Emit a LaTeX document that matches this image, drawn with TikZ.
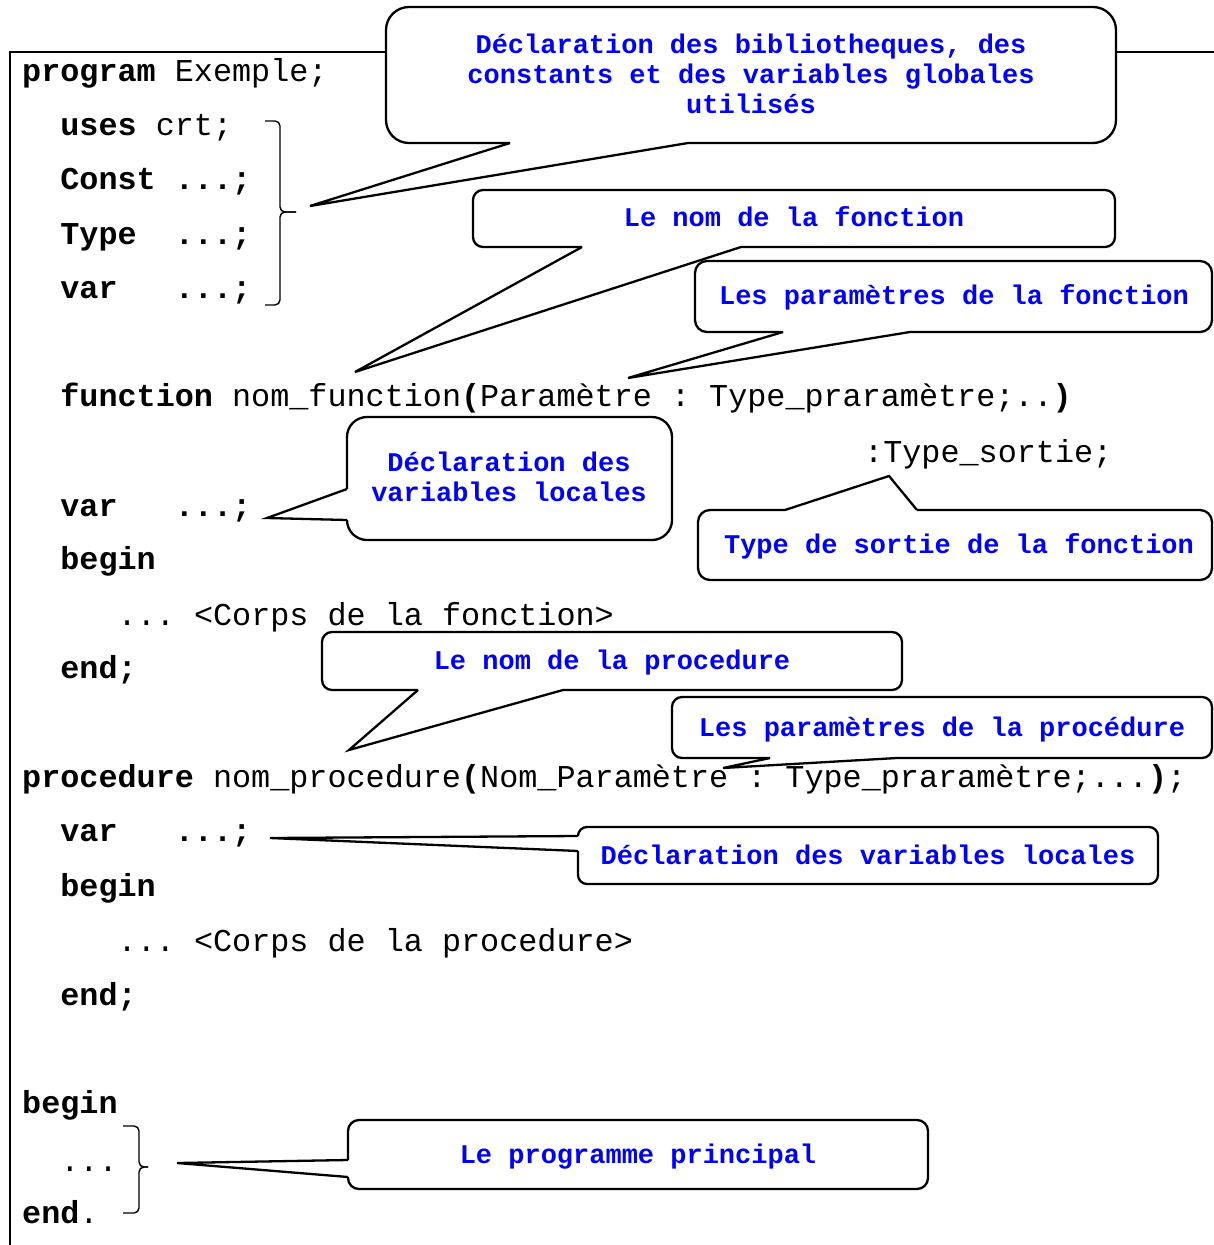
\documentclass[tikz,border=0pt]{standalone}
\usepackage{fontspec}
\setmonofont{Liberation Mono}
\newcommand\codefont{\ttfamily\fontsize{31.8}{38}\selectfont}
\newcommand\calfont{\ttfamily\bfseries\fontsize{27}{30}\selectfont}
\tikzset{
  codeline/.style={anchor=base west, inner sep=0pt, font=\codefont},
  ctext/.style={anchor=base, inner sep=0pt, text=blue, font=\calfont},
  cline/.style={draw=black, line width=2.3pt},
  cfill/.style={fill=white},
  bracepath/.style={draw=black, line width=1.4pt, rounded corners=5pt},
  framepath/.style={draw=black, line width=1.8pt}
}
\begin{document}
\begin{tikzpicture}[x=1pt,y=-1pt]
\useasboundingbox[fill=white] (0,0) rectangle (1214,1245);
% frame
\coordinate (F0) at (10,52);
\coordinate (F1) at (1214,52);
\coordinate (F2) at (10,1245);
\draw[framepath] (F1) -- (F0) -- (F2);

% code lines
\node[codeline] (l1) at (22,81) {\textbf{program}\ Exemple;};
\node[codeline] (l2) at (60.2,135) {\textbf{uses}\ crt;};
\node[codeline] (l3) at (60.2,189) {\textbf{Const\ ...;}};
\node[codeline] (l4) at (60.2,244) {\textbf{Type\ \ ...;}};
\node[codeline] (l5) at (60.2,298) {\textbf{var\ \ \ ...;}};
\node[codeline] (l6) at (60.2,406) {\textbf{function}\ nom\_function\textbf{(}Paramètre\ :\ Type\_praramètre;..\textbf{)}};
\node[codeline] (l7) at (864,462) {:Type\_sortie;};
\node[codeline] (l8) at (60.2,516) {\textbf{var\ \ \ ...;}};
\node[codeline] (l9) at (60.2,569) {\textbf{begin}};
\node[codeline] (l10) at (117.5,625) {...\ <Corps\ de\ la\ fonction>};
\node[codeline] (l11) at (60.2,678) {\textbf{end;}};
\node[codeline] (l12) at (22,787) {\textbf{procedure}\ nom\_procedure\textbf{(}Nom\_Paramètre\ :\ Type\_praramètre;...\textbf{)};};
\node[codeline] (l13) at (60.2,841) {\textbf{var\ \ \ ...;}};
\node[codeline] (l14) at (60.2,896) {\textbf{begin}};
\node[codeline] (l15) at (117.5,951) {...\ <Corps\ de\ la\ procedure>};
\node[codeline] (l16) at (60.2,1005) {\textbf{end;}};
\node[codeline] (l17) at (22,1113) {\textbf{begin}};
\node[codeline] (l18) at (60.2,1171) {...};
\node[codeline] (l19) at (22,1223) {\textbf{end}.};

% braces
\draw[bracepath] (265,121) -- (280,121) -- (280,212) -- (296,212);
\draw[bracepath] (296,212) -- (280,212) -- (280,305) -- (265,305);
\draw[bracepath] (123,1126) -- (139,1126) -- (139,1167) -- (148,1167);
\draw[bracepath] (148,1167) -- (139,1167) -- (139,1213) -- (123,1213);

% ---- callout A
\coordinate (A1) at (386,7); \coordinate (A2) at (1116,143);
\coordinate (Abl) at (510,143); \coordinate (Abr) at (688,143); \coordinate (Atip) at (310,206);
\fill[cfill,rounded corners=23pt] (A1) rectangle (A2);
\fill[cfill] (Abl) -- (Atip) -- (Abr) -- cycle;
\draw[cline,rounded corners=23pt] (Abr) -- (A2) -- (A2 |- A1) -- (A1) -- (A1 |- A2) -- (Abl);
\draw[cline] (Abl) -- (Atip) -- (Abr);
\node[ctext] (At1) at (751,53) {Déclaration des bibliotheques, des};
\node[ctext] (At2) at (751,83) {constants et des variables globales};
\node[ctext] (At3) at (751,113) {utilisés};

% ---- callout B
\coordinate (B1) at (473,190); \coordinate (B2) at (1115,247);
\coordinate (Bbl) at (582,247); \coordinate (Bbr) at (741,247); \coordinate (Btip) at (355,372);
\fill[cfill,rounded corners=10pt] (B1) rectangle (B2);
\fill[cfill] (Bbl) -- (Btip) -- (Bbr) -- cycle;
\draw[cline,rounded corners=10pt] (Bbr) -- (B2) -- (B2 |- B1) -- (B1) -- (B1 |- B2) -- (Bbl);
\draw[cline] (Bbl) -- (Btip) -- (Bbr);
\node[ctext] (Bt) at (794,226) {Le nom de la fonction};

% ---- callout C
\coordinate (C1) at (695,261); \coordinate (C2) at (1212,332);
\coordinate (Cbl) at (783,332); \coordinate (Cbr) at (910,332); \coordinate (Ctip) at (628,378);
\fill[cfill,rounded corners=12pt] (C1) rectangle (C2);
\fill[cfill] (Cbl) -- (Ctip) -- (Cbr) -- cycle;
\draw[cline,rounded corners=12pt] (Cbr) -- (C2) -- (C2 |- C1) -- (C1) -- (C1 |- C2) -- (Cbl);
\draw[cline] (Cbl) -- (Ctip) -- (Cbr);
\node[ctext] (Ct) at (954,304) {Les paramètres de la fonction};

% ---- callout D (tail on the left)
\coordinate (D1) at (347,417); \coordinate (D2) at (672,540);
\coordinate (Dbu) at (347,489); \coordinate (Dbl) at (347,520); \coordinate (Dtip) at (267,518);
\fill[cfill,rounded corners=20pt] (D1) rectangle (D2);
\fill[cfill] (Dbu) -- (Dtip) -- (Dbl) -- cycle;
\draw[cline,rounded corners=20pt] (Dbl) -- (D1 |- D2) -- (D2) -- (D2 |- D1) -- (D1) -- (Dbu);
\draw[cline] (Dbu) -- (Dtip) -- (Dbl);
\node[ctext] (Dt1) at (509,471) {Déclaration des};
\node[ctext] (Dt2) at (509,501) {variables locales};

% ---- callout E (tail on top)
\coordinate (E1) at (698,510); \coordinate (E2) at (1212,580);
\coordinate (Ebl) at (785,510); \coordinate (Ebr) at (917,510); \coordinate (Etip) at (889,476);
\fill[cfill,rounded corners=12pt] (E1) rectangle (E2);
\fill[cfill] (Ebl) -- (Etip) -- (Ebr) -- cycle;
\draw[cline,rounded corners=12pt] (Ebr) -- (E2 |- E1) -- (E2) -- (E1 |- E2) -- (E1) -- (Ebl);
\draw[cline] (Ebl) -- (Etip) -- (Ebr);
\node[ctext] (Et) at (959,553) {Type de sortie de la fonction};

% ---- callout F
\coordinate (G1) at (322,632); \coordinate (G2) at (902,690);
\coordinate (Gbl) at (418,690); \coordinate (Gbr) at (563,690); \coordinate (Gtip) at (349,750);
\fill[cfill,rounded corners=10pt] (G1) rectangle (G2);
\fill[cfill] (Gbl) -- (Gtip) -- (Gbr) -- cycle;
\draw[cline,rounded corners=10pt] (Gbr) -- (G2) -- (G2 |- G1) -- (G1) -- (G1 |- G2) -- (Gbl);
\draw[cline] (Gbl) -- (Gtip) -- (Gbr);
\node[ctext] (Gt) at (612,669) {Le nom de la procedure};

% ---- callout G
\coordinate (H1) at (672,697); \coordinate (H2) at (1212,758);
\coordinate (Hbl) at (770,758); \coordinate (Hbr) at (897,758); \coordinate (Htip) at (723,768);
\fill[cfill,rounded corners=10pt] (H1) rectangle (H2);
\fill[cfill] (Hbl) -- (Htip) -- (Hbr) -- cycle;
\draw[cline,rounded corners=10pt] (Hbr) -- (H2) -- (H2 |- H1) -- (H1) -- (H1 |- H2) -- (Hbl);
\draw[cline] (Hbl) -- (Htip) -- (Hbr);
\node[ctext] (Ht) at (942,736) {Les paramètres de la procédure};

% ---- callout H (tail on the left)
\coordinate (K1) at (578,827); \coordinate (K2) at (1158,884);
\coordinate (Kbu) at (578,836); \coordinate (Kbl) at (578,851); \coordinate (Ktip) at (270,838);
\fill[cfill,rounded corners=9pt] (K1) rectangle (K2);
\fill[cfill] (Kbu) -- (Ktip) -- (Kbl) -- cycle;
\draw[cline,rounded corners=9pt] (Kbl) -- (K1 |- K2) -- (K2) -- (K2 |- K1) -- (K1) -- (Kbu);
\draw[cline] (Kbu) -- (Ktip) -- (Kbl);
\node[ctext] (Kt) at (868,864) {Déclaration des variables locales};

% ---- callout I (tail on the left)
\coordinate (M1) at (348,1120); \coordinate (M2) at (928,1189);
\coordinate (Mbu) at (348,1160); \coordinate (Mbl) at (348,1177); \coordinate (Mtip) at (177,1163);
\fill[cfill,rounded corners=11pt] (M1) rectangle (M2);
\fill[cfill] (Mbu) -- (Mtip) -- (Mbl) -- cycle;
\draw[cline,rounded corners=11pt] (Mbl) -- (M1 |- M2) -- (M2) -- (M2 |- M1) -- (M1) -- (Mbu);
\draw[cline] (Mbu) -- (Mtip) -- (Mbl);
\node[ctext] (Mt) at (638,1163) {Le programme principal};
\end{tikzpicture}
\end{document}
